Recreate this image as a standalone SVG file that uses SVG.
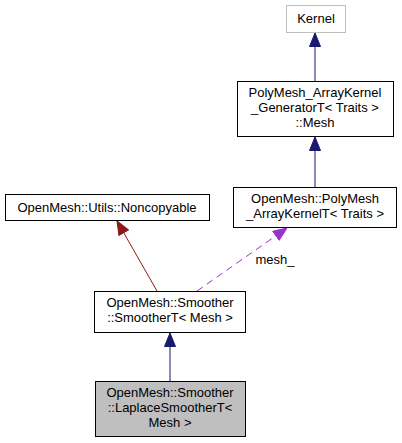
<svg xmlns="http://www.w3.org/2000/svg" width="402" height="443" viewBox="0 0 402 443">
<defs>
<style>
text{font-family:"Liberation Sans",Arial,sans-serif;font-size:13px;text-anchor:middle;fill:#000}
.box{fill:#fff;stroke:#000;stroke-width:1}
</style>
<marker id="ab" markerWidth="14" markerHeight="12" refX="14" refY="6" orient="auto" markerUnits="userSpaceOnUse"><path d="M0.5,0.5 L14,6 L0.5,11.5 z" fill="#191970" stroke="#191970"/></marker>
<marker id="ar" markerWidth="14" markerHeight="12" refX="14" refY="6" orient="auto" markerUnits="userSpaceOnUse"><path d="M0.5,0.5 L14,6 L0.5,11.5 z" fill="#8b1a1a" stroke="#8b1a1a"/></marker>
<marker id="ap" markerWidth="14" markerHeight="12" refX="14" refY="6" orient="auto" markerUnits="userSpaceOnUse"><path d="M0.5,0.5 L14,6 L0.5,11.5 z" fill="#9a32cd" stroke="#9a32cd"/></marker>
</defs>
<rect width="402" height="443" fill="#fff"/>
<g id="connectors">
<line x1="315" y1="81" x2="315" y2="33" stroke="#191970" marker-end="url(#ab)"/>
<line x1="315" y1="187" x2="315" y2="137" stroke="#191970" marker-end="url(#ab)"/>
<line x1="170" y1="381" x2="170" y2="333" stroke="#191970" marker-end="url(#ab)"/>
<line x1="157" y1="291" x2="117" y2="221" stroke="#8b1a1a" marker-end="url(#ar)"/>
<line x1="197" y1="291" x2="287" y2="228" stroke="#9a32cd" stroke-dasharray="7,5" marker-end="url(#ap)"/>
<text x="275" y="264">mesh_</text>
</g>
<g id="kernel"><rect x="286.5" y="5.5" width="59" height="27" fill="#fff" stroke="#bfbfbf"/><text x="316" y="23">Kernel</text></g>
<g id="generator"><rect class="box" x="237.5" y="81.5" width="156" height="55"/><text x="315" y="97">PolyMesh_ArrayKernel</text><text x="315" y="112">_GeneratorT&lt; Traits &gt;</text><text x="315" y="127">::Mesh</text></g>
<g id="arraykernel"><rect class="box" x="233.5" y="187.5" width="163" height="40"/><text x="315" y="203">OpenMesh::PolyMesh</text><text x="315" y="218">_ArrayKernelT&lt; Traits &gt;</text></g>
<g id="noncopyable"><rect class="box" x="5.5" y="194.5" width="204" height="26"/><text x="107" y="212">OpenMesh::Utils::Noncopyable</text></g>
<g id="smoother"><rect class="box" x="94.5" y="291.5" width="151" height="41"/><text x="170" y="307">OpenMesh::Smoother</text><text x="170" y="322">::SmootherT&lt; Mesh &gt;</text></g>
<g id="laplace"><rect x="95.5" y="381.5" width="150" height="55" fill="#bfbfbf" stroke="#000"/><text x="170" y="397">OpenMesh::Smoother</text><text x="170" y="412">::LaplaceSmootherT&lt;</text><text x="170" y="427">Mesh &gt;</text></g>
</svg>
